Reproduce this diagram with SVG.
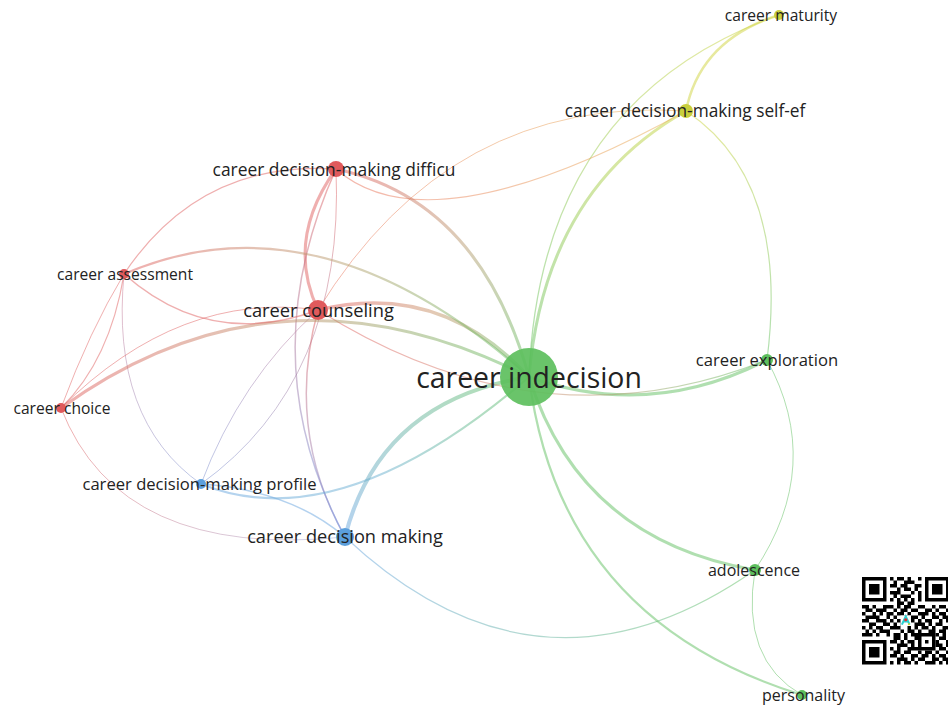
<svg xmlns="http://www.w3.org/2000/svg" width="948" height="706" viewBox="0 0 948 706">
<style>
.e{fill:none;stroke-linecap:round;stroke-opacity:.5}
.lbl{font-family:"Open Sans","Liberation Sans",sans-serif;fill:#222;text-anchor:middle}
.r{fill:#e05a5c}.g{fill:#5dbf5d}.b{fill:#5b9fdc}.y{fill:#c9cf3c}
</style>
<defs>
<linearGradient id="gCiMat" gradientUnits="userSpaceOnUse" x1="529" y1="377" x2="779" y2="15"><stop offset="0" stop-color="#62c062"/><stop offset="1" stop-color="#d2d640"/></linearGradient>
<linearGradient id="gCiSef" gradientUnits="userSpaceOnUse" x1="529" y1="377" x2="686" y2="111"><stop offset="0" stop-color="#62c062"/><stop offset="1" stop-color="#c8d43c"/></linearGradient>
<linearGradient id="gSefExp" gradientUnits="userSpaceOnUse" x1="686" y1="111" x2="767" y2="360"><stop offset="0" stop-color="#cfd43e"/><stop offset="1" stop-color="#62c062"/></linearGradient>
<linearGradient id="gDifSef" gradientUnits="userSpaceOnUse" x1="336" y1="169" x2="686" y2="111"><stop offset="0" stop-color="#e8705c"/><stop offset="1" stop-color="#e8b050"/></linearGradient>
<linearGradient id="gCouSef" gradientUnits="userSpaceOnUse" x1="318" y1="310" x2="686" y2="111"><stop offset="0" stop-color="#e8705c"/><stop offset="1" stop-color="#e8b050"/></linearGradient>
<linearGradient id="gDifCi" gradientUnits="userSpaceOnUse" x1="336" y1="169" x2="529" y2="377"><stop offset="0" stop-color="#e0605f"/><stop offset=".5" stop-color="#b89a70"/><stop offset="1" stop-color="#62c062"/></linearGradient>
<linearGradient id="gDifDm" gradientUnits="userSpaceOnUse" x1="336" y1="169" x2="345" y2="537"><stop offset="0" stop-color="#e0605f"/><stop offset="1" stop-color="#6a8ee0"/></linearGradient>
<linearGradient id="gDifPro" gradientUnits="userSpaceOnUse" x1="336" y1="169" x2="201" y2="484"><stop offset="0" stop-color="#e0605f"/><stop offset="1" stop-color="#7a90d0"/></linearGradient>
<linearGradient id="gCouDm" gradientUnits="userSpaceOnUse" x1="318" y1="310" x2="345" y2="537"><stop offset="0" stop-color="#e0605f"/><stop offset="1" stop-color="#7a8ed8"/></linearGradient>
<linearGradient id="gCouPro" gradientUnits="userSpaceOnUse" x1="318" y1="310" x2="201" y2="484"><stop offset="0" stop-color="#c07a9a"/><stop offset="1" stop-color="#7a90d0"/></linearGradient>
<linearGradient id="gAssPro" gradientUnits="userSpaceOnUse" x1="124" y1="274" x2="201" y2="484"><stop offset="0" stop-color="#d07a90"/><stop offset="1" stop-color="#7a90d0"/></linearGradient>
<linearGradient id="gChDm" gradientUnits="userSpaceOnUse" x1="61" y1="408" x2="345" y2="537"><stop offset="0" stop-color="#e0605f"/><stop offset="1" stop-color="#a0a8d8"/></linearGradient>
<linearGradient id="gDmAdo" gradientUnits="userSpaceOnUse" x1="345" y1="537" x2="755" y2="570"><stop offset="0" stop-color="#6aa6e0"/><stop offset="1" stop-color="#62c062"/></linearGradient>
<linearGradient id="gProCi" gradientUnits="userSpaceOnUse" x1="201" y1="484" x2="529" y2="377"><stop offset="0" stop-color="#6aa6e0"/><stop offset=".5" stop-color="#6ab0d0"/><stop offset="1" stop-color="#62c062"/></linearGradient>
<linearGradient id="gDmCi" gradientUnits="userSpaceOnUse" x1="345" y1="537" x2="529" y2="377"><stop offset="0" stop-color="#6aa6e0"/><stop offset="1" stop-color="#62c062"/></linearGradient>
<linearGradient id="gCouExp" gradientUnits="userSpaceOnUse" x1="318" y1="310" x2="767" y2="360"><stop offset="0" stop-color="#e0605f"/><stop offset=".5" stop-color="#d08a70"/><stop offset="1" stop-color="#62c062"/></linearGradient>
<linearGradient id="gChCi" gradientUnits="userSpaceOnUse" x1="61" y1="408" x2="529" y2="377"><stop offset="0" stop-color="#e0605f"/><stop offset=".5" stop-color="#c0906a"/><stop offset="1" stop-color="#62c062"/></linearGradient>
<linearGradient id="gCouCi" gradientUnits="userSpaceOnUse" x1="318" y1="310" x2="529" y2="377"><stop offset="0" stop-color="#e0605f"/><stop offset=".5" stop-color="#c8946a"/><stop offset="1" stop-color="#62c062"/></linearGradient>
<linearGradient id="gAssCi" gradientUnits="userSpaceOnUse" x1="124" y1="274" x2="529" y2="377"><stop offset="0" stop-color="#e0605f"/><stop offset=".5" stop-color="#b8a070"/><stop offset="1" stop-color="#62c062"/></linearGradient>
</defs>

<g id="connectors">
<path class="e" stroke="url(#gCiMat)" stroke-width="1.3" d="M529 377Q540 100 779 15"/>
<path class="e" stroke="url(#gCiSef)" stroke-width="3" d="M529 377Q545 190 686 111"/>
<path class="e" stroke="#cfd43e" stroke-width="2.5" d="M686 111Q700 40 779 15"/>
<path class="e" stroke="url(#gSefExp)" stroke-width="1.2" d="M686 111Q790 180 767 360"/>
<path class="e" stroke="url(#gDifSef)" stroke-width="1.2" d="M336 169Q430 252 686 111"/>
<path class="e" stroke="url(#gCouSef)" stroke-width="1" d="M318 310Q450 95 686 111"/>
<path class="e" stroke="url(#gDifCi)" stroke-width="3" d="M336 169Q480 200 529 377"/>
<path class="e" stroke="#e0605f" stroke-width="3" d="M336 169Q285 240 318 310"/>
<path class="e" stroke="url(#gDifDm)" stroke-width="1.5" d="M336 169Q250 360 345 537"/>
<path class="e" stroke="url(#gDifPro)" stroke-width="1" d="M336 169Q345 380 201 484"/>
<path class="e" stroke="url(#gCouDm)" stroke-width="1.5" d="M318 310Q285 430 345 537"/>
<path class="e" stroke="url(#gCouPro)" stroke-width="1" d="M318 310Q240 380 201 484"/>
<path class="e" stroke="url(#gAssPro)" stroke-width="1" d="M124 274Q110 420 201 484"/>
<path class="e" stroke="url(#gChDm)" stroke-width="1" d="M61 408Q120 560 345 537"/>
<path class="e" stroke="url(#gDmAdo)" stroke-width="1.2" d="M345 537Q540 720 755 570"/>
<path class="e" stroke="#6aa6e0" stroke-width="1.5" d="M201 484Q290 490 345 537"/>
<path class="e" stroke="url(#gProCi)" stroke-width="2.2" d="M201 484Q340 540 529 377"/>
<path class="e" stroke="url(#gDmCi)" stroke-width="4" d="M345 537Q380 400 529 377"/>
<path class="e" stroke="#62c062" stroke-width="3" d="M529 377Q650 420 767 360"/>
<path class="e" stroke="url(#gCouExp)" stroke-width="1.2" d="M318 310Q540 450 767 360"/>
<path class="e" stroke="#62c062" stroke-width="3" d="M529 377Q580 540 755 570"/>
<path class="e" stroke="#62c062" stroke-width="2.2" d="M529 377Q560 620 802 695"/>
<path class="e" stroke="#62c062" stroke-width="1" d="M767 360Q825 465 755 570"/>
<path class="e" stroke="#62c062" stroke-width="1" d="M755 570Q740 660 802 695"/>
<path class="e" stroke="url(#gChCi)" stroke-width="3" d="M61 408Q280 250 529 377"/>
<path class="e" stroke="url(#gCouCi)" stroke-width="3.5" d="M318 310Q440 280 529 377"/>
<path class="e" stroke="url(#gAssCi)" stroke-width="2.2" d="M124 274Q320 190 529 377"/>
<path class="e" stroke="#e0605f" stroke-width="1.2" d="M124 274Q200 160 336 169"/>
<path class="e" stroke="#e0605f" stroke-width="1.5" d="M124 274Q210 350 318 310"/>
<path class="e" stroke="#e0605f" stroke-width="1.2" d="M124 274Q110 360 61 408"/>
<path class="e" stroke="#e0605f" stroke-width="1" d="M124 274Q90 330 61 408"/>
<path class="e" stroke="#e0605f" stroke-width="1" d="M61 408Q180 290 318 310"/>
</g>

<g id="n-career-indecision"><circle class="g" cx="529" cy="377" r="29" fill-opacity=".92"/><text class="lbl" x="529" y="387.5" font-size="28.4">career indecision</text></g>
<g id="n-career-maturity"><circle class="y" cx="779" cy="15" r="5"/><text class="lbl" x="781" y="21" font-size="15.6">career maturity</text></g>
<g id="n-career-decision-making-self-ef"><circle class="y" cx="686" cy="111" r="7"/><text class="lbl" x="685" y="116.5" font-size="17.3">career decision-making self-ef</text></g>
<g id="n-career-decision-making-difficu"><circle class="r" cx="336" cy="169" r="8"/><text class="lbl" x="334" y="175.5" font-size="17.4">career decision-making difficu</text></g>
<g id="n-career-assessment"><circle class="r" cx="124" cy="274" r="5"/><text class="lbl" x="125" y="279.5" font-size="15.6">career assessment</text></g>
<g id="n-career-counseling"><circle class="r" cx="318" cy="310" r="10"/><text class="lbl" x="318.5" y="316.5" font-size="18.3">career counseling</text></g>
<g id="n-career-choice"><circle class="r" cx="61" cy="408" r="5"/><text class="lbl" x="62" y="413.5" font-size="15.6">career choice</text></g>
<g id="n-career-exploration"><circle class="g" cx="767" cy="360" r="6"/><text class="lbl" x="767" y="365.5" font-size="16.6">career exploration</text></g>
<g id="n-career-decision-making-profile"><circle class="b" cx="201" cy="484" r="5"/><text class="lbl" x="199.5" y="490" font-size="16.6">career decision-making profile</text></g>
<g id="n-career-decision-making"><circle class="b" cx="345" cy="537" r="9"/><text class="lbl" x="345" y="543" font-size="18.2">career decision making</text></g>
<g id="n-adolescence"><circle class="g" cx="755" cy="570" r="6"/><text class="lbl" x="754" y="576" font-size="16">adolescence</text></g>
<g id="n-personality"><circle class="g" cx="802" cy="695" r="5"/><text class="lbl" x="803.5" y="700.5" font-size="16">personality</text></g>

<g id="qr" transform="translate(862 577) scale(3.5)">
<path fill="#000" fill-rule="evenodd" d="M0 0h7v7h-7zM1 1v5h5v-5z M18 0h7v7h-7zM19 1v5h5v-5z M0 18h7v7h-7zM1 19v5h5v-5z M16 16h5v5h-5zM17 17v3h3v-3z"/>
<path fill="#000" d="M2 2h3v3h-3z M20 2h3v3h-3z M2 20h3v3h-3z M18 18h1v1h-1z"/>
<path fill="none" stroke="#000" stroke-width="1" d="M8 .5h1M10 .5h2M13 .5h1M16 .5h1 M9 1.5h1M12 1.5h3 M8 2.5h2M11 2.5h2M15 2.5h2 M10 3.5h1M12 3.5h2M15 3.5h1 M8 4.5h3M14 4.5h1M16 4.5h1 M9 5.5h1M11 5.5h3M16 5.5h1 M8 6.5h1M10 6.5h1M12 6.5h1M14 6.5h1M16 6.5h1 M10 7.5h2M13 7.5h2
M0 8.5h2M3 8.5h1M6 8.5h3M10 8.5h1M12 8.5h2M16 8.5h2M20 8.5h1M22 8.5h2
M1 9.5h2M4 9.5h3M9 9.5h1M11 9.5h2M14 9.5h2M18 9.5h2M21 9.5h1M24 9.5h1
M0 10.5h1M3 10.5h1M5 10.5h1M7 10.5h2M10 10.5h2M13 10.5h1M16 10.5h3M20 10.5h1M22 10.5h2
M1 11.5h4M7 11.5h1M9 11.5h1M12 11.5h1M14 11.5h2M17 11.5h1M20 11.5h2M23 11.5h2
M0 12.5h2M4 12.5h3M8 12.5h1M10 12.5h2M13 12.5h2M16 12.5h1M18 12.5h2M22 12.5h1M24 12.5h1
M2 13.5h2M6 13.5h2M9 13.5h1M11 13.5h2M15 13.5h3M19 13.5h1M21 13.5h2
M0 14.5h1M2 14.5h1M4 14.5h2M8 14.5h3M13 14.5h1M15 14.5h1M17 14.5h2M20 14.5h1M23 14.5h2
M1 15.5h1M3 15.5h1M5 15.5h3M11 15.5h1M13 15.5h2M16 15.5h1M19 15.5h2M22 15.5h2
M0 16.5h3M4 16.5h1M7 16.5h1M9 16.5h2M12 16.5h1M14 16.5h2M21 16.5h1M23 16.5h1
M9 17.5h2M12 17.5h1M15 17.5h1M22 17.5h2
M8 18.5h2M11 18.5h1M13 18.5h2M21 18.5h1M24 18.5h1
M10 19.5h3M14 19.5h1M21 19.5h2M24 19.5h1
M8 20.5h1M10 20.5h1M13 20.5h3M22 20.5h2
M9 21.5h2M12 21.5h2M16 21.5h1M18 21.5h2M21 21.5h1M24 21.5h1
M8 22.5h2M11 22.5h1M14 22.5h2M17 22.5h2M20 22.5h1M22 22.5h2
M10 23.5h3M14 23.5h1M16 23.5h2M20 23.5h2M23 23.5h2
M8 24.5h1M10 24.5h1M12 24.5h2M15 24.5h1M18 24.5h3M22 24.5h1M24 24.5h1"/>
<rect x="11" y="11" width="3" height="3" fill="#fff"/>
<path fill="none" stroke="#2ad0d0" stroke-width=".6" d="M11.4 13.6L12.5 11.3L13.6 13.6M11.9 12.7h1.3"/>
<circle cx="12.5" cy="12.2" r=".45" fill="#e03030"/>
<circle cx="13.4" cy="13.5" r=".3" fill="#e0d020"/>
</g>
</svg>
